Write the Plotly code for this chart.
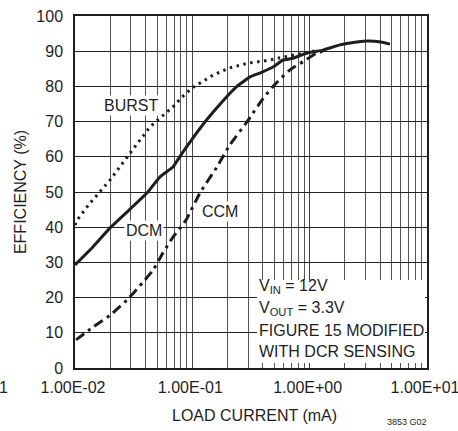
import plotly.graph_objects as go

# ---- data ----
burst_x = [0.01, 0.0104, 0.0134, 0.0163, 0.0199, 0.0294, 0.0436, 0.05, 0.0684, 0.0817,
           0.101, 0.15, 0.205, 0.298, 0.442, 0.68, 0.949, 1.2]
burst_y = [40.6, 42, 46.8, 50, 53.4, 61, 68.5, 70.3, 74.2, 77,
           79.7, 83.2, 85.2, 86.6, 87.4, 88.7, 89.7, 90.3]

dcm_x = [0.01, 0.0142, 0.0199, 0.0277, 0.0411, 0.053, 0.0684, 0.0817, 0.0955,
         0.128, 0.179, 0.24, 0.31, 0.377, 0.487, 0.593, 0.721, 0.949, 1.3,
         1.815, 2.53, 3.14, 4.05, 4.84]
dcm_y = [29.3, 34.4, 39.8, 44.3, 49.7, 54.3, 57.1, 61, 64.2,
         69.9, 75.6, 80, 82.7, 83.8, 85.5, 87.5, 88, 89.5, 90.3,
         91.8, 92.6, 92.9, 92.6, 92]

ccm_x = [0.0102, 0.0142, 0.0199, 0.0277, 0.038, 0.0462, 0.0562, 0.0684, 0.08, 0.09,
         0.116, 0.162, 0.209, 0.292, 0.392, 0.487, 0.68, 0.877, 1.155, 1.406]
ccm_y = [8, 11.6, 15, 19.3, 24.4, 27.8, 32.7, 37.2, 40, 42.5,
         49.7, 57.1, 63.4, 69.9, 76.1, 80, 84.7, 87, 89.5, 90.3]

x_tick_vals = [0.01, 0.1, 1, 10]
x_tick_text = ["1.00E-02", "1.00E-01", "1.00E+00", "1.00E+01"]
y_tick_vals = list(range(0, 101, 10))

FONT = "Liberation Sans, Arial, sans-serif"
INK = "#1e1e1e"
FS = 16

fig = go.Figure()
fig.add_trace(go.Scatter(x=burst_x, y=burst_y, mode="lines",
                         line=dict(color=INK, width=3, dash="2.5px,4.5px")))
fig.add_trace(go.Scatter(x=dcm_x, y=dcm_y, mode="lines",
                         line=dict(color=INK, width=3, shape="spline", smoothing=0.3)))
fig.add_trace(go.Scatter(x=ccm_x, y=ccm_y, mode="lines",
                         line=dict(color=INK, width=3, dash="10px,5px,3px,5px",
                                   shape="spline", smoothing=0.6)))

minor_vals = [m * d for d in (0.01, 0.1, 1) for m in range(2, 10)]

fig.update_xaxes(type="log", range=[-2, 1], tickmode="array",
                 tickvals=x_tick_vals, ticktext=x_tick_text,
                 showgrid=True, gridcolor="#444", gridwidth=1.3,
                 minor=dict(tickmode="array", tickvals=minor_vals, showgrid=True,
                            gridcolor="#555", gridwidth=1.2, ticks=""),
                 showline=True, linecolor=INK, linewidth=1.5, mirror=True,
                 ticks="", zeroline=False, automargin=False, ticklabeloverflow="allow",
                 ticklabelstandoff=4, ticklabelshift=-2,
                 tickfont=dict(family=FONT, size=FS, color=INK))
fig.update_yaxes(range=[0, 100], tickmode="array", tickvals=y_tick_vals,
                 showgrid=True, gridcolor="#222", gridwidth=1.2,
                 showline=True, linecolor=INK, linewidth=1.5, mirror=True,
                 ticks="", ticklabelstandoff=7, zeroline=False, automargin=False,
                 ticklabeloverflow="allow",
                 tickfont=dict(family=FONT, size=FS, color=INK))

ann_font = dict(family=FONT, size=FS, color=INK)
C = dict(xanchor="center", yanchor="middle", showarrow=False)
annotations = [
    dict(x=-1.523, y=74.7, text="BURST", bgcolor="white", font=ann_font, **C),
    dict(x=-1.412, y=39.2, text="DCM", bgcolor="white", font=ann_font, **C),
    dict(x=-0.764, y=44.6, text="CCM", bgcolor="white", font=ann_font, **C),
    dict(xref="paper", yref="paper", x=0.511, y=-0.136, text="LOAD CURRENT (mA)",
         font=ann_font, **C),
    dict(xref="paper", yref="paper", x=-0.156, y=0.5, text="EFFICIENCY (%)",
         textangle=-90, font=ann_font, **C),
    dict(xref="paper", yref="paper", x=0.943, y=-0.153, text="3853 G02",
         font=dict(family=FONT, size=9, color=INK), **C),
    dict(xref="paper", yref="paper", x=-0.1845, y=-0.054, text="1", xanchor="right",
         yanchor="middle", showarrow=False, font=ann_font),
]
box_lines = ["V<sub>IN</sub> = 12V", "V<sub>OUT</sub> = 3.3V",
             "FIGURE 15 MODIFIED", "WITH DCR SENSING"]
line_y_px = [286.5, 308.5, 330, 351]
for t, py in zip(box_lines, line_y_px):
    annotations.append(dict(xref="paper", yref="paper", x=(257 - 75) / 352,
                            y=(368 - py) / 352, xanchor="left", yanchor="middle",
                            text=t, showarrow=False, font=ann_font))

fig.add_shape(type="rect", xref="paper", yref="paper",
              x0=(257 - 75) / 352, x1=(425 - 75) / 352,
              y0=(368 - 363) / 352, y1=(368 - 280) / 352,
              fillcolor="white", line=dict(width=0), layer="above")

fig.update_layout(width=458, height=431, margin=dict(l=75, r=31, t=16, b=63),
                  paper_bgcolor="white", plot_bgcolor="white", showlegend=False,
                  annotations=annotations, font=dict(family=FONT, color=INK))

fig.write_html("out.html", config={"displayModeBar": False},
               post_script="document.body.style.margin='0';")
